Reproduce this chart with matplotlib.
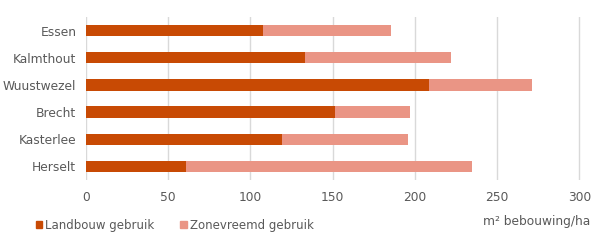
import matplotlib
matplotlib.use("Agg")
import matplotlib.pyplot as plt
from matplotlib.patches import Patch

categories = ["Essen", "Kalmthout", "Wuustwezel", "Brecht", "Kasterlee", "Herselt"]
landbouw = [107.8, 133.3, 208.7, 151.5, 119.3, 61.0]
zonevreemd = [77.8, 88.7, 62.6, 45.6, 76.6, 173.8]
xticks = [0, 50, 100, 150, 200, 250, 300]
series_names = ["Landbouw gebruik", "Zonevreemd gebruik"]
x_label = "m² bebouwing/ha"

c_dark = "#C84A04"
c_light = "#EA9585"
txt = "#595959"

plt.rcParams['font.family'] = ['DejaVu Sans']
fig = plt.figure(figsize=(6.01, 2.40), dpi=100)
px = 493.3 / 300.0
ax = fig.add_axes([86/601, 1 - 180/240, (581 - 86)/601, 163/240])

y = list(range(len(categories)))
ax.barh(y, landbouw, height=0.42, color=c_dark, zorder=3)
ax.barh(y, zonevreemd, left=landbouw, height=0.42, color=c_light, zorder=3)
ax.set_yticks(y)
ax.set_yticklabels(categories)
ax.set_ylim(len(categories) - 0.5, -0.5)
ax.set_xlim(0, (581 - 86) / px)
ax.set_xticks(xticks)
ax.grid(axis='x', color='#D9D9D9', linewidth=1, zorder=0)
for s in ax.spines.values():
    s.set_visible(False)
ax.tick_params(axis='both', length=0, colors=txt, labelsize=8.8)
ax.tick_params(axis='x', pad=8)
ax.tick_params(axis='y', pad=7)

handles = [Patch(color=c_dark), Patch(color=c_light)]
fig.legend(handles, series_names, loc='center left', bbox_to_anchor=(31/601, 1 - 225/240),
           ncol=2, frameon=False, fontsize=8.5, labelcolor=txt,
           handlelength=0.55, handleheight=0.55, handletextpad=0.25, columnspacing=2.2,
           borderaxespad=0, borderpad=0.4)
fig.text(590/601, 1 - 222/240, x_label, ha='right', va='center', fontsize=8.8, color=txt)

fig.savefig("out.png", dpi=100)
